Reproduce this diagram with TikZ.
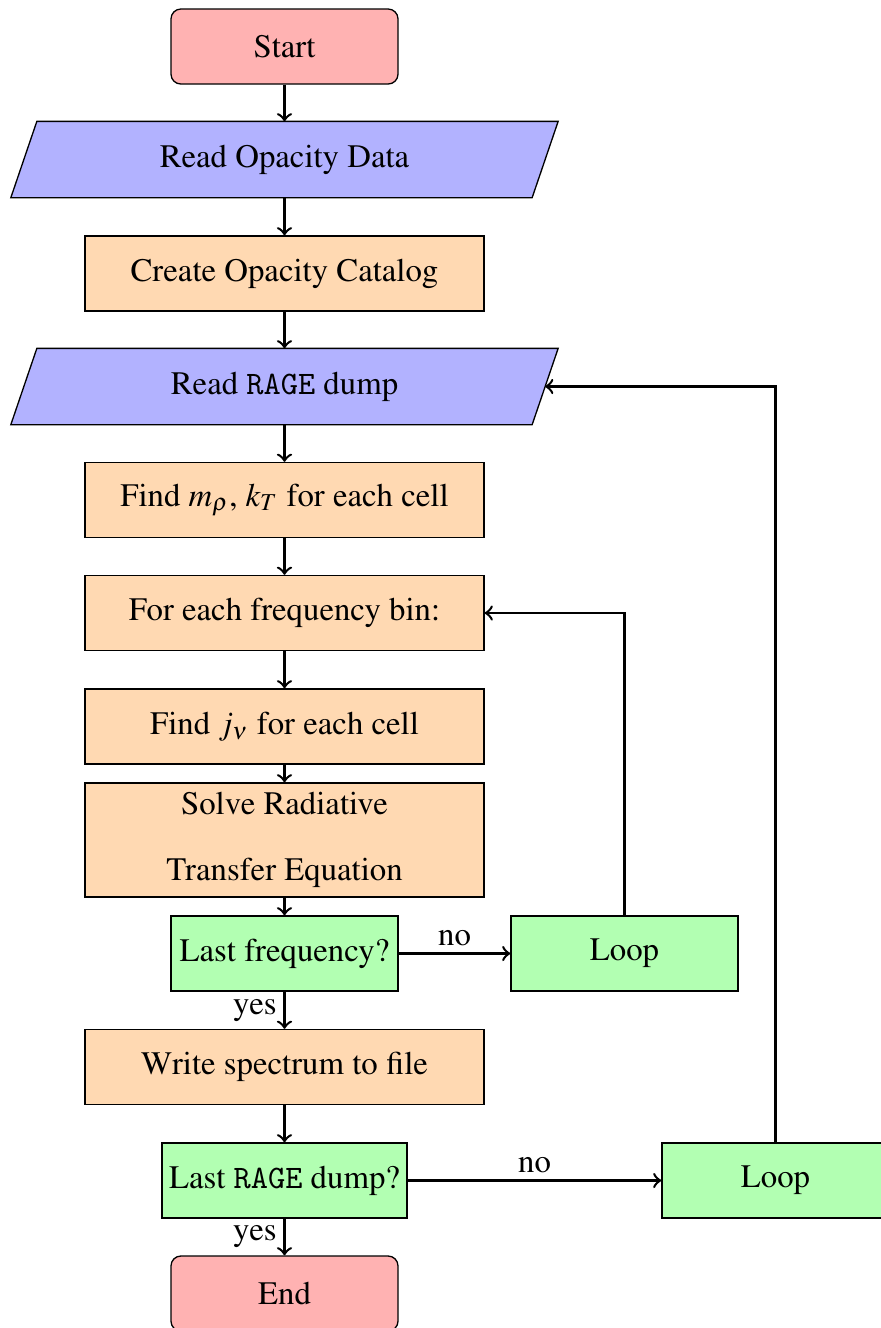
\documentclass[tikz,border=0pt]{standalone}
\usepackage[T1]{fontenc}
\usepackage{mathptmx}
\newcommand{\ragetxt}{{\fontencoding{OT1}\fontfamily{cmtt}\selectfont RAGE}}
\usetikzlibrary{backgrounds,calc}
\def\pxu{0.305pt}
\begin{document}
\begin{tikzpicture}[x=0.305pt,y=0.305pt,
  base/.style={draw=black, line width=0.4pt, inner sep=0pt, align=center, font=\fontsize{10}{12}\selectfont},
  term/.style={base, fill=red!30, rounded corners=3pt, minimum width={227*\pxu}, minimum height={75*\pxu}},
  iobox/.style={inner sep=0pt, align=center, font=\fontsize{10}{12}\selectfont, minimum width={520*\pxu}, minimum height={75*\pxu}},
  procbox/.style={base, fill=orange!30, minimum width={399*\pxu}, minimum height={75*\pxu}},
  decbox/.style={base, fill=green!30, minimum height={75*\pxu}},
  arr/.style={->, line width=0.75pt},
  lab/.style={font=\fontsize{10}{12}\selectfont, inner sep=2pt}
]
\useasboundingbox (0,0) rectangle (881,-1328);

\node[term] (start) at (284.5,-46.5) {Start};
\node[iobox] (rod) at (284.5,-159.5) {Read Opacity Data};
\node[procbox] (cat) at (284.5,-273.5) {Create Opacity Catalog};
\node[iobox] (rage) at (284.5,-386.5) {Read \ragetxt{} dump};
\node[procbox] (find) at (284.5,-500) {Find $m_\rho$, $k_T$ for each cell};
\node[procbox] (freq) at (284.5,-613) {For each frequency bin:};
\node[procbox] (jnu) at (284.5,-726.5) {Find $j_\nu$ for each cell};
\node[procbox, minimum height={114*\pxu}] (solve) at (284.5,-840) {Solve Radiative\\[8pt]Transfer Equation};
\node[decbox, minimum width={227*\pxu}] (lastf) at (284.5,-953.5) {Last frequency?};
\node[decbox, minimum width={227*\pxu}] (loopa) at (624.5,-953.5) {Loop};
\node[procbox] (write) at (284.5,-1067) {Write spectrum to file};
\node[decbox, minimum width={245*\pxu}] (lastr) at (284.5,-1180.5) {Last \ragetxt{} dump?};
\node[decbox, minimum width={227*\pxu}] (loopb) at (775.5,-1180.5) {Loop};
\node[term] (end) at (284.5,-1293.5) {End};

\begin{pgfonlayer}{background}
\foreach \p in {rod,rage}{
  \draw[fill=blue!30, line width=0.4pt] ($(\p.north west)+(13,0)$) -- ($(\p.north east)+(13,0)$) -- ($(\p.south east)+(-13,0)$) -- ($(\p.south west)+(-13,0)$) -- cycle;
}
\end{pgfonlayer}

\draw[arr] (start) -- (rod);
\draw[arr] (rod) -- (cat);
\draw[arr] (cat) -- (rage);
\draw[arr] (rage) -- (find);
\draw[arr] (find) -- (freq);
\draw[arr] (freq) -- (jnu);
\draw[arr] (jnu) -- (solve);
\draw[arr] (solve) -- (lastf);
\draw[arr] (lastf) -- node[lab, above] {no} (loopa);
\draw[arr] (lastf) -- node[lab, left] {yes} (write);
\draw[arr] (loopa.north) |- (freq.east);
\draw[arr] (write) -- (lastr);
\draw[arr] (lastr) -- node[lab, above] {no} (loopb);
\draw[arr] (lastr) -- node[lab, left] {yes} (end);
\draw[arr] (loopb.north) |- (rage.east);
\end{tikzpicture}
\end{document}
